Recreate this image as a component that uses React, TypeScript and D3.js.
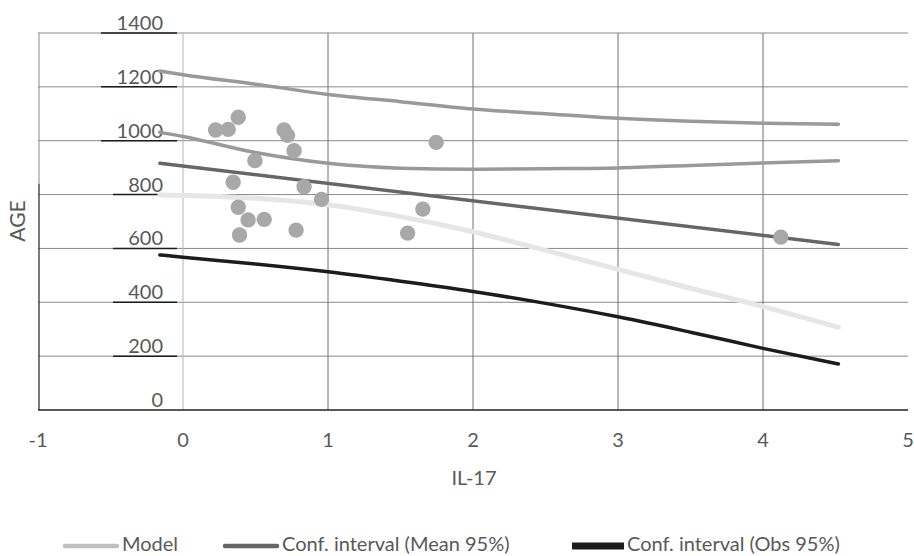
import * as d3 from "d3";

// axis ticks
const xTicks = [-1, 0, 1, 2, 3, 4, 5];
const yTicks = [0, 200, 400, 600, 800, 1000, 1200, 1400];

// observations
const obsX = [0.225, 0.312, 0.381, 0.697, 0.721, 0.766, 0.496, 0.346, 0.835, 0.955, 0.381, 0.449, 0.56, 0.39, 0.78, 1.746, 1.654, 1.549, 4.123];
const obsY = [1040, 1042, 1087, 1040, 1020, 963, 926, 846, 829, 782, 753, 706, 708, 650, 668, 994, 746, 657, 642];

// fitted curves
const curveX = [-0.16, 0, 0.5, 1, 1.5, 2, 2.5, 3, 3.5, 4, 4.52];
const obsUpper = [1259, 1245, 1210, 1172, 1145, 1118, 1100, 1083, 1072, 1065, 1061];
const meanUpper = [1031, 1016, 956, 916, 898, 894, 896, 899, 908, 917, 926];
const modelY = [798, 797, 786, 762, 718, 662, 593, 522, 452, 384, 307];
const obsLower = [576, 567, 542, 513, 478, 440, 396, 346, 289, 229, 171];
const meanX = [-0.16, 4.52];
const meanLower = [916, 615];

const legendItems = [
  { label: "Model", color: "#bfbfbf", width: 4.5, cap: "round" },
  { label: "Conf. interval (Mean 95%)", color: "#666666", width: 4.5, cap: "round" },
  { label: "Conf. interval (Obs 95%)", color: "#1c1c1c", width: 7, cap: "butt" },
];

const W = 914;
const H = 556;
const left = 38;
const right = 908;
const top = 33;
const bottom = 410;
const font = "Lato, 'Open Sans', sans-serif";
const textColor = "#595959";

export default function App() {
  const x = d3.scaleLinear().domain([-1, 5]).range([left, right]);
  const y = d3.scaleLinear().domain([0, 1400]).range([bottom, top]);

  const line = d3
    .line<[number, number]>()
    .x((d) => x(d[0]))
    .y((d) => y(d[1]))
    .curve(d3.curveMonotoneX);

  const path = (xs: number[], ys: number[]) =>
    line(xs.map((v, i) => [v, ys[i]] as [number, number])) || "";

  const legendPos = [
    { lx: 65, tx: 122 },
    { lx: 225, tx: 282 },
    { lx: 572, tx: 627 },
  ];

  return (
    <svg
      width={W}
      height={H}
      style={{ position: "absolute", left: 0, top: 0, background: "#fff" }}
      fontFamily={font}
    >
      {/* horizontal grid */}
      {yTicks.slice(1).map((t) => (
        <line key={"h" + t} x1={left} x2={right} y1={y(t)} y2={y(t)} stroke="#8a8a8a" strokeWidth={1} />
      ))}
      {/* vertical grid */}
      {xTicks.slice(1, -1).map((t) => (
        <line
          key={"v" + t}
          x1={x(t)}
          x2={x(t)}
          y1={top}
          y2={bottom}
          stroke={t === 0 ? "#b4b4b4" : "#707070"}
          strokeWidth={1}
        />
      ))}
      {/* left axis */}
      <line x1={left + 1} x2={left + 1} y1={top} y2={y(1000) + 43} stroke="#8a8a8a" strokeWidth={1} />
      <line x1={left + 1} x2={left + 1} y1={y(1000) + 43} y2={bottom} stroke="#333" strokeWidth={1.3} />
      {/* y tick marks under labels */}
      {yTicks.slice(1).map((t) => (
        <line
          key={"m" + t}
          x1={t >= 1000 ? 101 : 113}
          x2={177}
          y1={y(t)}
          y2={y(t)}
          stroke="#1c1c1c"
          strokeWidth={1.5}
        />
      ))}
      {/* y tick labels */}
      {yTicks.map((t) => (
        <text key={"yl" + t} x={163} y={y(t) - 3} textAnchor="end" fontSize={20} fill={textColor}>
          {t}
        </text>
      ))}
      {/* x axis */}
      <line x1={left} x2={right} y1={bottom} y2={bottom} stroke="#222" strokeWidth={1.5} />
      {xTicks.map((t) => (
        <text key={"xl" + t} x={x(t)} y={447} textAnchor="middle" fontSize={20} fill={textColor}>
          {t}
        </text>
      ))}
      <text x={474} y={485} textAnchor="middle" fontSize={20} fill={textColor}>
        IL-17
      </text>
      <text
        transform={`translate(25, ${221}) rotate(-90)`}
        textAnchor="middle"
        fontSize={21}
        fill={textColor}
      >
        AGE
      </text>

      {/* curves */}
      <g fill="none" strokeLinecap="round">
        <path d={path(curveX, obsUpper)} stroke="#999999" strokeWidth={3.5} />
        <path d={path(curveX, meanUpper)} stroke="#999999" strokeWidth={3.5} />
        <path d={path(curveX, modelY)} stroke="#e6e6e6" strokeWidth={5} />
        <path d={path(meanX, meanLower)} stroke="#666666" strokeWidth={3.5} />
        <path d={path(curveX, obsLower)} stroke="#1c1c1c" strokeWidth={3.5} />
      </g>

      {/* observations */}
      {obsX.map((v, i) => (
        <circle key={"p" + i} cx={x(v)} cy={y(obsY[i])} r={7.7} fill="#a8a8a8" />
      ))}

      {/* legend */}
      {legendItems.map((it, i) => (
        <g key={it.label}>
          <line
            x1={legendPos[i].lx}
            x2={legendPos[i].lx + 52}
            y1={546}
            y2={546}
            stroke={it.color}
            strokeWidth={it.width}
            strokeLinecap={it.cap as any}
          />
          <text x={legendPos[i].tx} y={551} fontSize={20} fill={textColor}>
            {it.label}
          </text>
        </g>
      ))}
    </svg>
  );
}
